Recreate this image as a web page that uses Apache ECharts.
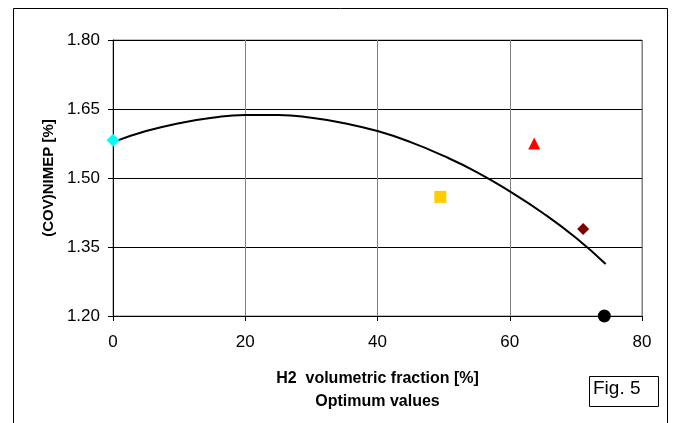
<!DOCTYPE html>
<html><head><meta charset="utf-8">
<script src="https://cdn.jsdelivr.net/npm/echarts@6/dist/echarts.min.js"></script>
<style>html,body{margin:0;padding:0;background:#fff}#c{width:674px;height:423px}</style>
</head><body><div id="c"></div>
<script>
// Trendline
const curveX = [0, 5, 10, 15, 20, 25, 30, 35, 40, 45, 50, 55, 60, 65, 70, 74.5];
const curveY = [1.578, 1.602, 1.619, 1.631, 1.637, 1.637, 1.631, 1.619, 1.602, 1.578, 1.548, 1.513, 1.471, 1.424, 1.370, 1.313];
// Optimum points
const ptCyan = [0, 1.582];
const ptYellow = [49.5, 1.459];
const ptRed = [63.7, 1.575];
const ptDarkRed = [71.1, 1.389];
const ptBlack = [74.3, 1.200];
const yTicks = [1.20, 1.35, 1.50, 1.65, 1.80];
const xTicks = [0, 20, 40, 60, 80];

const font = 'Liberation Sans, Arial, sans-serif';
const chart = echarts.init(document.getElementById('c'));
const curve = curveX.map((x, i) => [x, curveY[i]]);
function pt(d, symbol, size, color) {
  return { type: 'scatter', data: [d], symbol, symbolSize: size, itemStyle: { color, opacity: 1 }, z: 5 };
}
chart.setOption({
  animation: false,
  graphic: [
    { type: 'rect', shape: { x: 13.5, y: 8.5, width: 654, height: 430 }, style: { fill: 'none', stroke: '#000', lineWidth: 1 } },
    { type: 'rect', shape: { x: 589.5, y: 376.5, width: 69, height: 30 }, style: { fill: '#fff', stroke: '#000', lineWidth: 1 } },
    { type: 'text', left: 593, top: 379, style: { text: 'Fig. 5', font: '19px ' + font, fill: '#000' } }
  ],
  grid: { left: 113, right: 32, top: 40, bottom: 107, show: true, borderColor: '#808080', borderWidth: 1 },
  xAxis: {
    type: 'value', min: 0, max: 80, interval: 20,
    name: 'H2  volumetric fraction [%]\nOptimum values', nameLocation: 'middle', nameGap: 51,
    nameTextStyle: { fontFamily: font, fontSize: 16, fontWeight: 'bold', color: '#000', lineHeight: 23 },
    axisLine: { lineStyle: { color: '#000' } },
    axisTick: { show: true, length: 5, lineStyle: { color: '#000' } },
    axisLabel: { fontFamily: font, fontSize: 17, color: '#000', margin: 18, formatter: v => xTicks.includes(v) ? String(v) : '' },
    splitLine: { show: true, lineStyle: { color: '#808080', width: 1 } }
  },
  yAxis: {
    type: 'value', min: 1.20, max: 1.80, interval: 0.15,
    name: '(COV)NIMEP [%]', nameLocation: 'middle', nameGap: 55, nameRotate: 90,
    nameTextStyle: { fontFamily: font, fontSize: 15, fontWeight: 'bold', color: '#000' },
    axisLine: { show: true, lineStyle: { color: '#000' } },
    axisTick: { show: true, length: 5, lineStyle: { color: '#000' } },
    axisLabel: { fontFamily: font, fontSize: 17, color: '#000', margin: 13, formatter: v => yTicks.some(t => Math.abs(t - v) < 1e-6) ? v.toFixed(2) : '' },
    splitLine: { show: true, lineStyle: { color: '#000', width: 1 } }
  },
  series: [
    { type: 'line', data: curve, smooth: true, showSymbol: false, lineStyle: { color: '#000', width: 2 }, z: 3 },
    pt(ptCyan, 'diamond', 13, '#00FFFF'),
    pt(ptYellow, 'rect', 12, '#FFCC00'),
    pt(ptRed, 'triangle', 12, '#FF0000'),
    pt(ptDarkRed, 'diamond', 12, '#800000'),
    pt(ptBlack, 'circle', 13, '#000000')
  ]
});
</script></body></html>
